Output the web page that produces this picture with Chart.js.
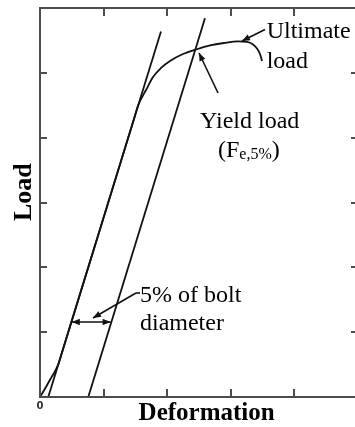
<!DOCTYPE html>
<html>
<head>
<meta charset="utf-8">
<script src="https://cdn.jsdelivr.net/npm/chart.js@4.4.1/dist/chart.umd.min.js"></script>
<style>
  html, body { margin: 0; padding: 0; background: #fff; overflow: hidden; }
  #wrap { width: 359px; height: 427px; }
</style>
</head>
<body>
<div id="wrap"><canvas id="chart" width="359" height="427"></canvas></div>
<script>
// load-deformation curve of the bolted joint
const deformation = [0, 0.08, 0.16, 0.232, 0.29, 0.35, 0.916, 1.481, 1.544, 1.667, 1.777, 1.903, 2.044,
  2.248, 2.453, 2.673, 2.893, 3.113, 3.255, 3.349, 3.412, 3.459, 3.491]
const load = [0, 0.13, 0.27, 0.39, 0.51, 0.70, 2.5, 4.30, 4.5, 4.735, 4.936, 5.075, 5.183,
  5.291, 5.360, 5.422, 5.460, 5.484, 5.476, 5.437, 5.376, 5.291, 5.183]

// initial stiffness line and the same line shifted by 5% of the bolt diameter
const elasticX = [0.130, 1.902]
const elasticY = [0, 5.638]
const offsetX = [0.759, 2.594]
const offsetY = [0, 5.841]

const xTicks = [1, 2, 3, 4]
const yTicks = [1, 2, 3, 4, 5]

// annotation arrows: [from, to], arrowhead at "to"
const ultimateArrow = [[3.538, 5.669], [3.176, 5.491]]
const yieldArrow = [[2.799, 4.689], [2.50, 5.306]]
const boltArrow = [[1.509, 1.604], [0.833, 1.219]]
const gapArrow = [[0.500, 1.157], [1.110, 1.157]]

const notes = [
  { text: 'Ultimate', x: 3.564, y: 5.538 },
  { text: 'load', x: 3.564, y: 5.075 },
  { text: 'Yield load', x: 2.516, y: 4.149 },
  { text: '5% of bolt', x: 1.572, y: 1.470 },
  { text: 'diameter', x: 1.572, y: 1.033 }
]

const toPoints = (xs, ys) => xs.map((v, i) => ({ x: v, y: ys[i] }))

function arrowHead(ctx, x0, y0, x1, y1) {
  const ang = Math.atan2(y1 - y0, x1 - x0)
  const len = 8, half = 3.2
  ctx.beginPath()
  ctx.moveTo(x1, y1)
  ctx.lineTo(x1 - len * Math.cos(ang) + half * Math.sin(ang), y1 - len * Math.sin(ang) - half * Math.cos(ang))
  ctx.lineTo(x1 - len * Math.cos(ang) - half * Math.sin(ang), y1 - len * Math.sin(ang) + half * Math.cos(ang))
  ctx.closePath()
  ctx.fill()
}

const framePlugin = {
  id: 'frame',
  afterDatasetsDraw(chart) {
    const { ctx, chartArea: a, scales: { x, y } } = chart
    ctx.save()

    // box with inward ticks on all four sides
    ctx.strokeStyle = '#4d4d4d'
    ctx.lineWidth = 2
    ctx.strokeRect(a.left, a.top, a.right - a.left, a.bottom - a.top)
    ctx.beginPath()
    xTicks.forEach(v => {
      const px = Math.round(x.getPixelForValue(v))
      ctx.moveTo(px, a.top); ctx.lineTo(px, a.top + 8)
      ctx.moveTo(px, a.bottom); ctx.lineTo(px, a.bottom - 8)
    })
    yTicks.forEach(v => {
      const py = Math.round(y.getPixelForValue(v))
      ctx.moveTo(a.left, py); ctx.lineTo(a.left + 7, py)
      ctx.moveTo(a.right, py); ctx.lineTo(a.right - 7, py)
    })
    ctx.stroke()

    // arrows
    ctx.strokeStyle = '#111'
    ctx.fillStyle = '#111'
    ctx.lineWidth = 1.6
    const single = [ultimateArrow, yieldArrow, boltArrow]
    single.forEach(([p0, p1]) => {
      const x0 = x.getPixelForValue(p0[0]), y0 = y.getPixelForValue(p0[1])
      const x1 = x.getPixelForValue(p1[0]), y1 = y.getPixelForValue(p1[1])
      ctx.beginPath()
      ctx.moveTo(x0, y0); ctx.lineTo(x1, y1)
      ctx.stroke()
      arrowHead(ctx, x0, y0, x1, y1)
    })
    // short lead from the "5% of bolt" text
    const bx = x.getPixelForValue(boltArrow[0][0]), by = y.getPixelForValue(boltArrow[0][1])
    ctx.beginPath(); ctx.moveTo(bx, by); ctx.lineTo(bx + 4, by); ctx.stroke()

    const gx0 = x.getPixelForValue(gapArrow[0][0]), gy0 = y.getPixelForValue(gapArrow[0][1])
    const gx1 = x.getPixelForValue(gapArrow[1][0]), gy1 = y.getPixelForValue(gapArrow[1][1])
    ctx.beginPath(); ctx.moveTo(gx0, gy0); ctx.lineTo(gx1, gy1); ctx.stroke()
    arrowHead(ctx, gx0, gy0, gx1, gy1)
    arrowHead(ctx, gx1, gy1, gx0, gy0)

    // annotation text
    ctx.fillStyle = '#000'
    ctx.textBaseline = 'alphabetic'
    ctx.textAlign = 'left'
    ctx.font = '24px "Liberation Serif", "Times New Roman", serif'
    notes.forEach(n => ctx.fillText(n.text, x.getPixelForValue(n.x), y.getPixelForValue(n.y)))

    // (F e,5%) with subscript
    let fx = x.getPixelForValue(2.799)
    const fy = y.getPixelForValue(3.702)
    ctx.font = '24px "Liberation Serif", "Times New Roman", serif'
    ctx.fillText('(F', fx, fy)
    fx += ctx.measureText('(F').width
    ctx.font = '16px "Liberation Serif", "Times New Roman", serif'
    ctx.fillText('e,5%', fx, fy + 2)
    fx += ctx.measureText('e,5%').width
    ctx.font = '24px "Liberation Serif", "Times New Roman", serif'
    ctx.fillText(')', fx, fy)

    // axis titles
    ctx.font = 'bold 25px "Liberation Serif", "Times New Roman", serif'
    ctx.textAlign = 'center'
    ctx.fillText('Deformation', x.getPixelForValue(2.62), a.bottom + 23)
    ctx.save()
    ctx.translate(a.left - 9, y.getPixelForValue(3.16))
    ctx.rotate(-Math.PI / 2)
    ctx.font = 'bold 26px "Liberation Serif", "Times New Roman", serif'
    ctx.fillText('Load', 0, 0)
    ctx.restore()

    ctx.font = 'bold 10px "DejaVu Sans", sans-serif'
    ctx.fillStyle = '#333'
    ctx.textBaseline = 'middle'
    ctx.fillText('0', a.left, a.bottom + 9)

    ctx.restore()
  }
}

const ctx = document.getElementById('chart').getContext('2d')
const chart = new Chart(ctx, {
  type: 'line',
  data: {
    datasets: [{
      label: 'Load',
      data: toPoints(deformation, load),
      borderColor: '#111',
      borderWidth: 1.8,
      pointRadius: 0,
      cubicInterpolationMode: 'monotone',
      fill: false
    }, {
      label: 'Elastic',
      data: toPoints(elasticX, elasticY),
      borderColor: '#111',
      borderWidth: 1.8,
      pointRadius: 0,
      fill: false
    }, {
      label: 'Offset',
      data: toPoints(offsetX, offsetY),
      borderColor: '#111',
      borderWidth: 1.8,
      pointRadius: 0,
      fill: false
    }]
  },
  options: {
    responsive: false,
    animation: false,
    layout: { padding: { left: 40, top: 8, right: 1, bottom: 30 } },
    plugins: { legend: { display: false }, tooltip: { enabled: false } },
    scales: {
      x: { type: 'linear', min: 0, max: 5, display: false },
      y: { type: 'linear', min: 0, max: 6, display: false }
    }
  },
  plugins: [framePlugin]
})
</script>
</body>
</html>
